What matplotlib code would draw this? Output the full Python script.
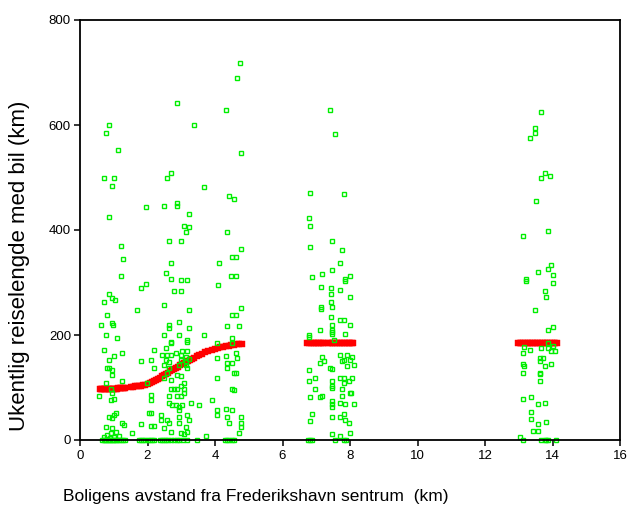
import matplotlib
matplotlib.use("Agg")
import matplotlib.pyplot as plt

plt.rcParams['font.family'] = ['Liberation Sans', 'DejaVu Sans']

# ---------------- data (x = distance km, y = weekly km by car) ----------------
cluster1_upper = [(4.75,719),(4.65,689),(2.88,641),(4.32,629),(3.38,600),(0.87,600),(0.77,584),
    (1.12,553),(4.76,547),(2.69,509),(2.59,500),(0.72,500),(1.02,500),(0.96,484),(3.67,481),
    (4.41,465),(4.56,459),(1.96,443),(2.49,446),(2.88,452),(2.88,446),(3.23,430),(0.87,424),
    (3.08,408),(3.23,405),(3.13,396),(4.36,396),(1.21,370),(2.64,379),(2.98,379),(4.76,363),
    (1.27,344),(2.69,338),(4.51,348),(4.61,348),(4.12,338),(1.21,313),(2.54,319),(2.69,307),
    (2.98,305),(3.18,305),(4.47,313),(4.61,313)]

cluster1_lower = [(1.80,289),(1.95,297),(4.10,295),
    (0.87,279),(0.96,270),(1.04,267),(0.72,263),(2.79,283),(2.98,284),
    (2.49,257),(1.70,248),(3.23,248),(4.76,251),(0.81,238),(4.51,238),(4.61,238),
    (0.62,220),(0.94,222),(0.97,220),(2.93,225),(2.64,219),(2.64,214),(3.23,213),(4.37,217),(4.71,217),
    (0.76,200),(1.11,194),(2.49,200),(2.93,200),(2.69,187),(2.69,184),(3.18,190),(3.18,187),
    (3.67,200),(4.51,194),(4.51,185),(4.07,184),
    (0.71,171),(1.25,166),(1.01,160),(2.19,171),(2.54,175),(3.03,170),(3.18,170),
    (2.44,162),(2.59,162),(2.69,162),(2.83,165),(2.98,162),(3.13,159),(4.32,160),(4.61,165),(4.07,156),
    (0.86,152),(1.80,150),(2.09,152),(2.54,152),(2.64,149),(2.98,152),(3.13,149),(3.23,154),
    (0.81,137),(0.86,137),(0.96,133),(2.19,137),(2.49,143),(2.59,127),(2.64,137),(2.93,143),
    (3.13,143),(3.18,137),
    (4.37,147),(4.51,147),(4.66,156),(4.37,137),(4.56,128),(4.61,127),
    (0.96,124),(0.76,109),(1.25,113),(1.99,109),(2.49,119),(2.69,114),(2.88,124),(2.98,121),(4.07,119),
    (4.51,98),(4.56,95),(0.91,98),(0.96,89),(1.01,79),(0.91,76),(0.56,84),(2.09,86),(2.09,77),
    (2.69,97),(2.79,98),(2.88,98),(2.98,102),(3.08,98),(3.08,108),(3.08,89),
    (2.64,84),(2.88,84),(2.98,84),(2.64,70),(2.74,67),(2.84,67),(2.93,63),(3.03,67),(2.93,57),
    (3.28,71),(3.53,67),(3.92,77),
    (2.39,48),(2.59,38),(2.39,38),(2.19,27),(2.49,22),(2.64,32),(2.69,16),
    (2.93,43),(2.93,32),(3.18,48),(3.23,38),(3.13,25),(2.98,13),(3.08,11),(3.18,16),
    (4.07,57),(4.07,48),(4.32,60),(4.37,44),(4.41,32),(4.51,58),(4.76,44),(4.76,32),(4.76,25),(4.71,13),
    (0.86,44),(0.96,41),(1.06,51),(1.01,48),(0.76,25),(0.96,22),(1.25,32),(1.30,29),
    (1.55,14),(1.80,30),(2.09,27),(2.04,51),(2.09,51),(3.72,8),
    (0.71,6),(0.91,13),(1.06,16),(0.80,10),(0.88,4),(1.15,8),(1.00,6)]

cluster1_zero_x = [0.66,0.70,0.74,0.78,0.82,0.86,0.90,0.94,0.98,1.02,1.06,1.10,1.16,1.22,1.28,1.34,
    1.76,1.82,1.88,1.94,2.00,2.06,2.12,2.20,2.38,2.44,2.50,2.56,2.62,2.70,2.78,2.86,2.94,3.04,3.16,
    3.46,4.30,4.36,4.42,4.50,4.56]

cluster2 = [(7.42,629),(7.57,582),(6.82,471),(7.81,468),(6.78,423),(6.82,408),(7.47,380),(6.82,367),
    (7.76,361),(7.71,338),(7.47,323),(7.17,316),(8.01,313),(6.87,310),(7.86,307),
    (7.85,303),(7.13,292),(7.43,289),(7.43,278),(7.71,285),(8.01,273),(7.43,263),(7.13,253),(7.13,250),
    (7.48,254),(7.43,235),(7.71,229),(7.81,229),(8.01,219),(7.47,219),(7.12,210),(7.46,210),(7.48,206),
    (7.46,201),(6.78,200),(6.78,197),(7.86,201),(7.52,190),
    (7.71,162),(7.91,162),(8.06,159),(7.17,159),(7.22,150),(7.12,147),(7.76,150),(7.81,152),(8.01,152),
    (7.91,141),(8.11,143),(7.42,137),(7.47,135),(6.78,133),
    (7.71,118),(7.81,118),(8.06,118),(6.97,118),(6.78,112),(7.47,112),(7.96,112),(7.81,109),(7.47,102),
    (7.47,100),(6.97,97),(7.76,97),(8.01,90),(8.03,89),(7.76,84),(7.17,84),(7.12,81),(6.82,81),
    (7.47,74),(7.47,68),(7.47,62),(7.71,71),(7.86,68),(8.11,68),(6.87,49),(6.82,36),(7.81,49),(7.71,43),
    (7.47,43),(7.86,39),(7.96,33),(7.47,11),(7.71,8),(8.01,14)]
cluster2_zero_x = [6.76,6.80,6.86,7.56,7.82,7.88]

cluster3 = [(13.67,625),(13.47,594),(13.47,585),(13.32,575),(13.77,509),(13.67,500),(13.92,503),
    (13.52,455),(13.87,399),(13.13,389),(13.96,333),(13.87,326),(14.02,314),(13.57,320),(13.22,307),
    (13.22,303),(14.02,300),(13.77,283),(13.82,273),(13.47,248),(14.02,216),(13.87,210),
    (13.87,185),(14.02,179),(13.87,176),(13.67,176),(13.32,171),(13.17,178),(13.97,170),(14.06,170),
    (13.13,166),(13.62,157),(13.72,157),(13.62,150),(13.13,144),(13.17,141),(13.97,144),(13.77,141),
    (13.13,128),(13.62,128),(13.62,125),(13.62,112),
    (13.13,78),(13.37,81),(13.57,69),(13.77,71),(13.37,53),(13.37,40),(13.57,30),(13.82,34),
    (13.42,18),(13.57,18),(13.03,6)]
cluster3_zero_x = [13.13,13.67,13.77,13.82,13.87,14.11]

# fitted values (red)
fit_x1 = [0.58,0.62,0.66,0.70,0.74,0.78,0.82,0.86,0.90,0.94,0.98,1.02,1.06,1.10,1.14,1.18,1.22,1.26,1.30,1.34,
    1.52,1.58,1.64,1.70,1.76,1.82,1.88,1.94,2.00,
    2.06,2.12,2.18,2.24,2.30,2.36,2.42,2.48,2.54,2.60,2.66,2.72,2.78,2.84,2.90,2.96,3.02,3.08,3.14,3.20,
    3.26,3.32,3.38,3.46,3.54,3.62,3.70,3.80,3.90,4.00,4.08,4.16,4.24,4.32,4.40,4.48,4.56,4.64,4.72,4.80]
fit_y1 = [97,97,97,97,97,97,97,98,98,98,98,98,98,98,99,99,99,99,99,99,
    101,101,102,102,103,103,104,105,106,
    108,110,112,114,116,118,121,123,126,128,131,133,135,137,140,142,145,147,149,151,
    153,155,157,160,162,164,167,170,172,174,176,177,178,179,180,181,181,182,182,182]
fit_x2 = [6.74,6.79,6.84,6.89,6.94,6.99,7.04,7.09,7.14,7.19,7.24,
    7.36,7.41,7.46,7.51,7.56,7.61,7.66,7.71,7.76,7.81,7.86,7.91,7.96,8.01,8.06,8.10]
fit_y2 = [185]*len(fit_x2)
fit_x3 = [12.98,13.03,13.08,13.13,13.18,13.23,13.28,13.33,13.38,13.43,13.48,13.53,13.58,13.63,
    13.68,13.73,13.78,13.83,13.88,13.93,13.98,14.03,14.08,14.14]
fit_y3 = [185]*len(fit_x3)

x_ticks = [0, 2, 4, 6, 8, 10, 12, 14, 16]
y_ticks = [0, 200, 400, 600, 800]
x_label = "Boligens avstand fra Frederikshavn sentrum  (km)"
y_label = "Ukentlig reiselengde med bil (km)"

# ---------------- figure ----------------
fig = plt.figure(figsize=(6.3, 5.14), dpi=100)
ax = fig.add_axes([80/630, 1-440/514, 540/630, 420/514])

red_kw = dict(linestyle='none', marker='s', markersize=4.3, markerfacecolor='#ff0000',
              markeredgecolor='#ff0000', markeredgewidth=0.3, clip_on=False, zorder=2)
ax.plot(fit_x1, fit_y1, **red_kw)
ax.plot(fit_x2, fit_y2, **red_kw)
ax.plot(fit_x3, fit_y3, **red_kw)

green_kw = dict(linestyle='none', marker='s', markersize=3.3, markerfacecolor='none',
                markeredgecolor='#00ee00', markeredgewidth=1.0, clip_on=False, zorder=2.2)
for pts in (cluster1_upper, cluster1_lower, cluster2, cluster3):
    ax.plot([p[0] for p in pts], [p[1] for p in pts], **green_kw)
for zx in (cluster1_zero_x, cluster2_zero_x, cluster3_zero_x):
    ax.plot(zx, [0]*len(zx), **green_kw)

ax.set_xlim(0, 16)
ax.set_ylim(0, 800)
ax.set_xticks(x_ticks)
ax.set_yticks(y_ticks)
ax.tick_params(direction='out', length=4, width=1.1, labelsize=9.5, pad=3, colors='black')
ax.tick_params(axis='y', pad=2.5)
for s in ax.spines.values():
    s.set_linewidth(1.3)
    s.set_zorder(3)

fig.text(256/630, 1-497/514, x_label, ha='center', va='center', fontsize=12.5)
fig.text(20/630, 1-266/514, y_label, ha='center', va='center', rotation=90, fontsize=16)

fig.savefig("out.png", dpi=100)
